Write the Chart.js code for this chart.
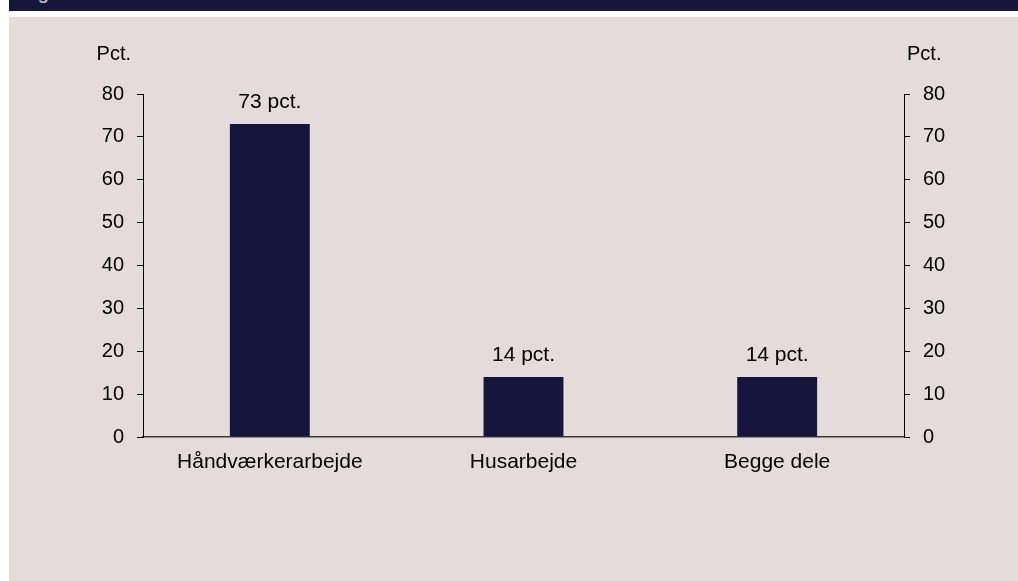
<!DOCTYPE html>
<html>
<head>
<meta charset="utf-8">
<script src="https://cdn.jsdelivr.net/npm/chart.js@4.4.1/dist/chart.umd.min.js"></script>
<style>
  html, body { margin: 0; padding: 0; background: #fff; }
  body { width: 1018px; height: 581px; position: relative; overflow: hidden; font-family: "Liberation Sans", Arial, sans-serif; }
  #band { position: absolute; left: 9px; top: 0; width: 1009px; height: 11px; background: #16163d; overflow: hidden; }
  #band span { position: absolute; left: 12px; top: -19px; color: #c8c8d4; font-size: 20px; }
  #panel { position: absolute; left: 9px; top: 17px; width: 1009px; height: 564px; background: #e3dcdb; }
  #chart { position: absolute; left: 0; top: 0; }
</style>
</head>
<body>
<div id="band"><span>Figur 3</span></div>
<div id="panel"></div>
<canvas id="chart" width="1018" height="581" style="width:1018px;height:581px"></canvas>
<script>
'use strict';
// ---------- Bar chart: type of work ----------

const categories = ['Håndværkerarbejde', 'Husarbejde', 'Begge dele'];
const shares     = [73, 14, 14];
const yTicks     = [0, 10, 20, 30, 40, 50, 60, 70, 80];
const unitLabel  = 'Pct.';

const FONT = '"Liberation Sans", Arial, sans-serif';
const BAR_COLOR = '#16163d';

// Draw "Pct." above each value axis
const axisUnits = {
    id: 'axisUnits',
    afterDraw(chart) {
        const ctx = chart.ctx;
        const top = chart.chartArea.top - 40;
        ctx.save();
        ctx.font = '20px ' + FONT;
        ctx.fillStyle = '#000';
        ctx.textBaseline = 'middle';
        ctx.textAlign = 'right';
        ctx.fillText(unitLabel, chart.scales.y.right - 12, top);
        ctx.textAlign = 'left';
        ctx.fillText(unitLabel, chart.scales.y2.left + 3, top);
        ctx.restore();
    },
};

// Value labels above bars
const barLabels = {
    id: 'barLabels',
    afterDatasetsDraw(chart) {
        const ctx = chart.ctx;
        const meta = chart.getDatasetMeta(0);
        ctx.save();
        ctx.font = '21px ' + FONT;
        ctx.fillStyle = '#000';
        ctx.textAlign = 'center';
        ctx.textBaseline = 'alphabetic';
        meta.data.forEach((bar, i) => {
            ctx.fillText(shares[i] + ' pct.', bar.x, bar.y - 16);
        });
        ctx.restore();
    },
};

function valueAxis(position) {
    return {
        type: 'linear',
        position,
        min: yTicks[0],
        max: yTicks[yTicks.length - 1],
        afterBuildTicks: s => { s.ticks = yTicks.map(v => ({ value: v })); },
        afterFit: s => { s.width = position === 'left' ? 143 : 114; },
        border: { display: true, color: '#000', width: 1 },
        grid: { drawOnChartArea: false, drawTicks: true, tickLength: 6, color: '#000', lineWidth: 1 },
        ticks: { color: '#000', padding: 13, font: { family: FONT, size: 20 } },
    };
}

new Chart(document.getElementById('chart'), {
    type: 'bar',
    data: {
        labels: categories,
        datasets: [{
            data: shares,
            backgroundColor: BAR_COLOR,
            borderWidth: 0,
            categoryPercentage: 1,
            barPercentage: 0.315,
            yAxisID: 'y',
        }],
    },
    options: {
        responsive: false,
        animation: false,
        devicePixelRatio: 1,
        layout: { padding: { top: 94, left: 0, right: 0, bottom: 0 } },
        plugins: { legend: { display: false }, tooltip: { enabled: false } },
        scales: {
            x: {
                afterFit: s => { s.height = 144; },
                border: { display: true, color: '#3a3a3a', width: 1.5 },
                grid: { display: false, drawTicks: false },
                ticks: { color: '#000', padding: 13, font: { family: FONT, size: 21 } },
            },
            y: valueAxis('left'),
            y2: valueAxis('right'),
        },
    },
    plugins: [axisUnits, barLabels],
});
</script>
</body>
</html>
